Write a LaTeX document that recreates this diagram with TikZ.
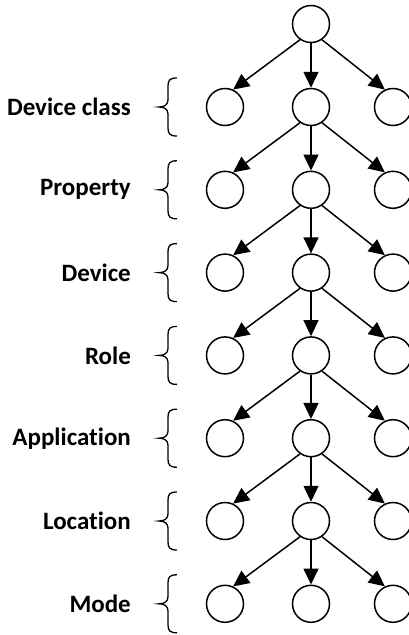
\documentclass[tikz,border=0pt]{standalone}
\usepackage{fontspec}
\setmainfont{Carlito}[Ligatures=NoCommon]
\usetikzlibrary{arrows.meta}
\begin{document}
\begin{tikzpicture}[x=1pt,y=-1pt,
  state/.style={circle,draw,line width=1.5pt,minimum size=37pt,inner sep=0pt},
  edge/.style={line width=1.5pt,-{Triangle[length=16pt,width=15pt]}},
  lbl/.style={anchor=east,font=\fontsize{25}{28}\selectfont\bfseries,inner sep=0pt},
  bracepath/.style={line width=1.3pt}]
  \useasboundingbox (0,0) rectangle (409,635);
  \def\xl{225}\def\xm{311}\def\xr{393}
  % root
  \node[state] (r) at (\xm,24) {};
  % levels
  \foreach \i/\name in {1/Device class,2/Property,3/Device,4/Role,5/Application,6/Location,7/Mode}{
    \pgfmathsetmacro{\yy}{107+82.8*(\i-1)}
    \node[state] (l\i) at (\xl,\yy) {};
    \node[state] (m\i) at (\xm,\yy) {};
    \node[state] (n\i) at (\xr,\yy) {};
    \node[lbl] (t\i) at (131,\yy) {\name};
    \draw[bracepath] (177,\yy-29) .. controls (170,\yy-29) and (168,\yy-27) .. (168,\yy-21)
      -- (168,\yy-7) .. controls (168,\yy-2) and (164,\yy) .. (159,\yy)
      .. controls (164,\yy) and (168,\yy+2) .. (168,\yy+7)
      -- (168,\yy+21) .. controls (168,\yy+27) and (170,\yy+29) .. (177,\yy+29);
  }
  % edges from root
  \draw[edge] (r.-125) -- (l1.65);
  \draw[edge] (r.south) -- (m1.north);
  \draw[edge] (r.-55) -- (n1.115);
  % edges between levels
  \foreach \i [evaluate=\i as \j using int(\i+1)] in {1,...,6}{
    \draw[edge] (m\i.-125) -- (l\j.65);
    \draw[edge] (m\i.south) -- (m\j.north);
    \draw[edge] (m\i.-55) -- (n\j.115);
  }
\end{tikzpicture}
\end{document}
